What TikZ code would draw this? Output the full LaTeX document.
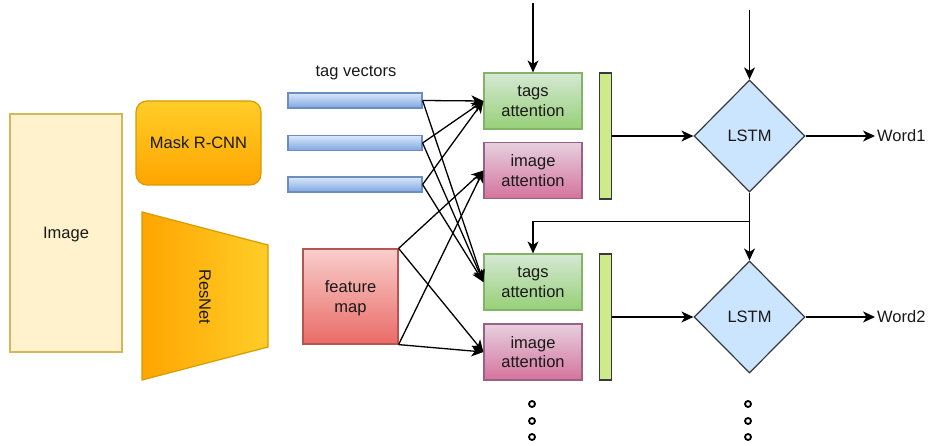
\documentclass[tikz,border=0pt]{standalone}
\usepackage{fontspec}
\setmainfont{Liberation Sans}
\usetikzlibrary{shapes.geometric,arrows.meta}
\definecolor{imgfill}{HTML}{FFF2CC}\definecolor{imgline}{HTML}{D6B656}
\definecolor{orA}{HTML}{FFCD28}\definecolor{orB}{HTML}{FFA500}\definecolor{orline}{HTML}{D79B00}
\definecolor{blA}{HTML}{DAE8FC}\definecolor{blB}{HTML}{7EA6E0}\definecolor{blline}{HTML}{6C8EBF}
\definecolor{grA}{HTML}{D5E8D4}\definecolor{grB}{HTML}{97D077}\definecolor{grline}{HTML}{82B366}
\definecolor{puA}{HTML}{E6D0DE}\definecolor{puB}{HTML}{D5739D}\definecolor{puline}{HTML}{996185}
\definecolor{rdA}{HTML}{F8CECC}\definecolor{rdB}{HTML}{EA6B66}\definecolor{rdline}{HTML}{B85450}
\definecolor{lime}{HTML}{CDEB8B}\definecolor{dk}{HTML}{36393D}\definecolor{lstmfill}{HTML}{CCE5FF}
\begin{document}
\begin{tikzpicture}[x=1pt,y=-1pt,
  every node/.style={font=\fontsize{16.5}{19.5}\selectfont, text=black!90},
  box/.style={draw, line width=1.2pt, inner sep=0pt, align=center, text depth=0pt},
  tagbar/.style={box, top color=blA, bottom color=blB, draw=blline, minimum width=134pt, minimum height=15pt},
  tagatt/.style={box, top color=grA, bottom color=grB, draw=grline, minimum width=98pt, minimum height=56pt},
  imgatt/.style={box, top color=puA, bottom color=puB, draw=puline, minimum width=98pt, minimum height=56pt},
  gbar/.style={box, fill=lime, draw=dk, minimum width=12pt, minimum height=126pt},
  lstm/.style={box, diamond, aspect=1, fill=lstmfill, draw=dk, minimum width=111pt, minimum height=112pt},
  arr/.style={line width=1.3pt, -{Stealth[length=12pt,width=11pt,inset=3.5pt]}},
  dot/.style={circle, draw, line width=1.8pt, minimum size=6pt, inner sep=0pt}
]
\useasboundingbox (0,0) rectangle (928,446);
% left blocks
\node[box, fill=imgfill, draw=imgline, minimum width=112pt, minimum height=238pt] (img) at (66,233) {Image};
\node[box, top color=orA, bottom color=orB, draw=orline, rounded corners=11pt, minimum width=125pt, minimum height=84pt] (mask) at (198.5,143) {Mask R-CNN};
\path[draw=orline, line width=1.2pt, left color=orB, right color=orA] (142,212) -- (268,245) -- (268,347) -- (142,380) -- cycle;
\node[rotate=-90, text depth=0pt] (resnet) at (205,297) {ResNet};
% tag vectors
\node (tvlabel) at (356,73) {tag vectors};
\node[tagbar] (b1) at (355,100.5) {};
\node[tagbar] (b2) at (355,143) {};
\node[tagbar] (b3) at (355,184.5) {};
\node[box, top color=rdA, bottom color=rdB, draw=rdline, minimum width=95pt, minimum height=95pt] (fm) at (350.5,296.5) {feature\\map};
% attention
\node[tagatt] (ta1) at (533,101) {tags\\attention};
\node[imgatt] (ia1) at (533,170.5) {image\\attention};
\node[tagatt] (ta2) at (533,282) {tags\\attention};
\node[imgatt] (ia2) at (533,352) {image\\attention};
\node[gbar] (g1) at (605.5,136) {};
\node[gbar] (g2) at (605.5,317) {};
% LSTM
\node[lstm] (l1) at (749.5,136) {LSTM};
\node[lstm] (l2) at (749.5,317) {LSTM};
\node[anchor=west, inner sep=2pt] (w1) at (875,136) {Word1};
\node[anchor=west, inner sep=2pt] (w2) at (875,317) {Word2};
\coordinate (in1) at (533,3);
\coordinate (in2) at (749.5,10);
% connectors
\draw[arr] (in1) -- (ta1.north);
\draw[arr] (in2) -- (l1.north);
\draw[arr] (g1.east) -- (l1.west);
\draw[arr] (g2.east) -- (l2.west);
\draw[arr] (l1.east) -- (w1.west);
\draw[arr] (l2.east) -- (w2.west);
\draw[arr] (l1.south) -- (l2.north);
\draw[arr] (l1.south) -- ++(0,29) -| (ta2.north);
\foreach \b in {b1,b2,b3}{
  \draw[arr] (\b.east) -- (ta1.west);
  \draw[arr] (\b.east) -- (ta2.west);
}
\draw[arr] (fm.north east) -- (ia1.west);
\draw[arr] (fm.north east) -- (ia2.west);
\draw[arr] (fm.south east) -- (ia1.west);
\draw[arr] (fm.south east) -- (ia2.west);
% dots
\node[dot] (d1) at (532,404) {};
\node[dot] (d2) at (532,421) {};
\node[dot] (d3) at (532,437) {};
\node[dot] (d4) at (748,404) {};
\node[dot] (d5) at (748,421) {};
\node[dot] (d6) at (748,437) {};
\end{tikzpicture}
\end{document}
